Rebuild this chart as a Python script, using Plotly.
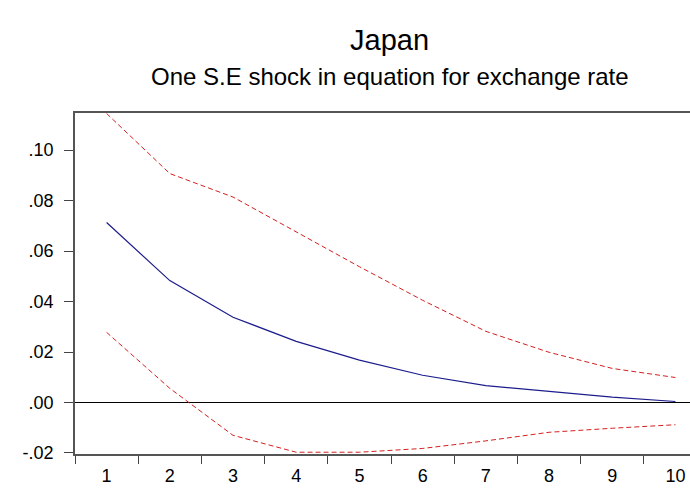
import plotly.graph_objects as go

periods = [1, 2, 3, 4, 5, 6, 7, 8, 9, 10]
response = [0.0713, 0.0483, 0.0338, 0.0242, 0.0168, 0.0108, 0.0067, 0.0043, 0.0021, 0.0004]
upper = [0.1145, 0.0907, 0.0814, 0.0675, 0.0538, 0.0405, 0.0282, 0.0199, 0.0135, 0.0099]
lower = [0.0278, 0.0056, -0.0130, -0.0197, -0.0197, -0.0182, -0.0152, -0.0118, -0.0102, -0.0088]
y_tickvals = [-0.02, 0.0, 0.02, 0.04, 0.06, 0.08, 0.10]
y_ticktext = ["-.02", ".00", ".02", ".04", ".06", ".08", ".10"]
x_boundaries = [0.5, 1.5, 2.5, 3.5, 4.5, 5.5, 6.5, 7.5, 8.5, 9.5]

red = "#d42020"
fig = go.Figure()
fig.add_trace(go.Scatter(x=periods, y=upper, mode="lines",
                         line=dict(color=red, width=1, dash="5px,3px"), showlegend=False))
fig.add_trace(go.Scatter(x=periods, y=lower, mode="lines",
                         line=dict(color=red, width=1, dash="5px,3px"), showlegend=False))
fig.add_trace(go.Scatter(x=periods, y=response, mode="lines",
                         line=dict(color="#1c1c8c", width=1.2), showlegend=False))

font = "Liberation Sans, Arial, sans-serif"
fig.update_layout(
    width=690, height=488,
    margin=dict(l=75, r=0, t=113, b=34, autoexpand=False),
    paper_bgcolor="white", plot_bgcolor="white",
    font=dict(family=font, color="black"),
    annotations=[
        dict(text="Japan", xref="paper", yref="paper", x=0.512, y=1.214,
             xanchor="center", yanchor="middle", showarrow=False,
             font=dict(size=29, family=font, color="black")),
        dict(text="One S.E shock in equation for exchange rate", xref="paper", yref="paper",
             x=0.512, y=1.106, xanchor="center", yanchor="middle", showarrow=False,
             font=dict(size=24, family=font, color="black")),
    ],
)
fig.update_xaxes(
    range=[0.5, 10.23], tickvals=periods, ticktext=[str(p) for p in periods],
    ticks="outside", ticklen=5, tickcolor="rgba(0,0,0,0)",
    minor=dict(tickvals=x_boundaries, ticks="outside", ticklen=8, tickcolor="#444", tickwidth=1),
    showline=True, linecolor="#555", linewidth=1.5, mirror=True,
    showgrid=False, zeroline=False, tickfont=dict(size=18),
)
fig.update_yaxes(
    range=[-0.0204, 0.1147], tickvals=y_tickvals, ticktext=y_ticktext,
    ticks="outside", ticklen=9, tickcolor="#444", tickwidth=1,
    showline=True, linecolor="#555", linewidth=1.5,
    showgrid=False, zeroline=True, zerolinecolor="black", zerolinewidth=1,
    tickfont=dict(size=18), ticklabelstandoff=7,
)
fig.write_html("out.html", config={"displayModeBar": False},
               post_script="document.body.style.margin='0';")
